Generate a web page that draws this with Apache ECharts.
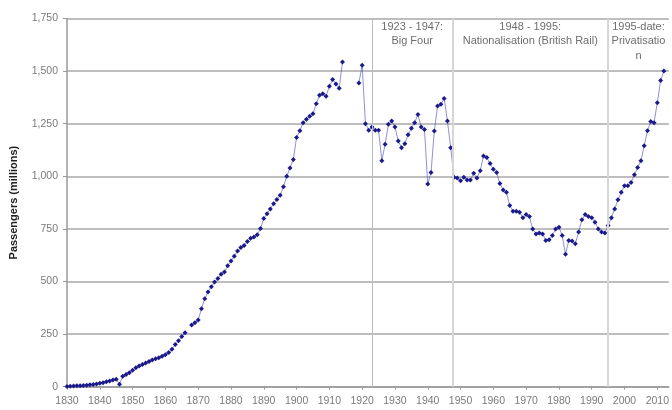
<!DOCTYPE html>
<html>
<head>
<meta charset="utf-8">
<script src="https://cdn.jsdelivr.net/npm/echarts@6/dist/echarts.min.js"></script>
<style>
  html, body { margin: 0; padding: 0; background: #fff; }
  #chart { width: 672px; height: 410px; }
</style>
</head>
<body>
<div id="chart"></div>
<script>
// years on the x axis, one per point
const years = [
  1830, 1831, 1832, 1833, 1834, 1835, 1836, 1837, 1838, 1839,
  1840, 1841, 1842, 1843, 1844, 1845, 1846, 1847, 1848, 1849,
  1850, 1851, 1852, 1853, 1854, 1855, 1856, 1857, 1858, 1859,
  1860, 1861, 1862, 1863, 1864, 1865, 1866, 1867, 1868, 1869,
  1870, 1871, 1872, 1873, 1874, 1875, 1876, 1877, 1878, 1879,
  1880, 1881, 1882, 1883, 1884, 1885, 1886, 1887, 1888, 1889,
  1890, 1891, 1892, 1893, 1894, 1895, 1896, 1897, 1898, 1899,
  1900, 1901, 1902, 1903, 1904, 1905, 1906, 1907, 1908, 1909,
  1910, 1911, 1912, 1913, 1914, 1915, 1916, 1917, 1918, 1919,
  1920, 1921, 1922, 1923, 1924, 1925, 1926, 1927, 1928, 1929,
  1930, 1931, 1932, 1933, 1934, 1935, 1936, 1937, 1938, 1939,
  1940, 1941, 1942, 1943, 1944, 1945, 1946, 1947, 1948, 1949,
  1950, 1951, 1952, 1953, 1954, 1955, 1956, 1957, 1958, 1959,
  1960, 1961, 1962, 1963, 1964, 1965, 1966, 1967, 1968, 1969,
  1970, 1971, 1972, 1973, 1974, 1975, 1976, 1977, 1978, 1979,
  1980, 1981, 1982, 1983, 1984, 1985, 1986, 1987, 1988, 1989,
  1990, 1991, 1992, 1993, 1994, 1995, 1996, 1997, 1998, 1999,
  2000, 2001, 2002, 2003, 2004, 2005, 2006, 2007, 2008, 2009,
  2010, 2011, 2012
]

// passengers (millions), '-' = no data
const passengers = [
  1, 2, 3, 4, 5, 6, 7, 9, 11, 13,
  16, 19, 23, 27, 32, 36, 12, 50, 58, 66,
  78, 90, 98, 106, 113, 120, 127, 133, 138, 145,
  152, 162, 178, 200, 218, 238, 257, '-', 293, 304,
  317, 370, 418, 450, 475, 498, 514, 535, 545, 575,
  598, 620, 645, 662, 671, 690, 705, 712, 722, 752,
  800, 822, 845, 870, 890, 910, 950, 1000, 1040, 1080,
  1184, 1216, 1255, 1271, 1286, 1297, 1345, 1385, 1392, 1381,
  1428, 1460, 1439, 1418, 1543, '-', '-', '-', '-', 1444,
  1528, 1250, 1219, 1234, 1219, 1219, 1074, 1152, 1247, 1263,
  1234, 1168, 1136, 1155, 1197, 1228, 1255, 1294, 1234, 1223,
  963, 1018, 1215, 1334, 1342, 1370, 1263, 1136, 995, 992,
  979, 995, 982, 982, 1014, 992, 1026, 1097, 1089, 1061,
  1034, 1018, 966, 935, 924, 861, 834, 834, 829, 803,
  818, 809, 750, 726, 730, 726, 695, 698, 719, 750,
  758, 719, 629, 695, 692, 680, 735, 793, 818, 809,
  803, 782, 750, 735, 730, 766, 803, 845, 888, 924,
  955, 955, 971, 1007, 1042, 1074, 1145, 1216, 1260, 1255,
  1350, 1455, 1500
]

// era boundaries and their captions
const eraStarts = [1923, 1947.5, 1995]
const eraEnds = [1947.5, 1995, 2013.5]
const eraLabels = ['1923 - 1947:\nBig Four', '1948 - 1995:\nNationalisation (British Rail)', '1995-date:\nPrivatisation']

const font = '"Liberation Sans", Arial, sans-serif'
const fmt = v => String(v).replace(/\B(?=(\d{3})+(?!\d))/g, ',')

const chart = echarts.init(document.getElementById('chart'))

const option = {
  animation: false,
  backgroundColor: '#fff',
  textStyle: { fontFamily: font },
  grid: { left: 67, right: 0, top: 18.5, bottom: 23.3 },
  xAxis: {
    type: 'value',
    min: 1830,
    max: 2013.5,
    interval: 10,
    axisLine: { lineStyle: { color: '#999', width: 1.5 } },
    axisTick: { show: true, length: 3, lineStyle: { color: '#999' } },
    axisLabel: { color: '#7a7a7a', fontSize: 10.5, margin: 9, showMaxLabel: false, formatter: v => String(v), fontFamily: font },
    splitLine: { show: false }
  },
  yAxis: {
    type: 'value',
    min: 0,
    max: 1750,
    interval: 250,
    name: 'Passengers (millions)',
    nameLocation: 'middle',
    nameGap: 48,
    nameTextStyle: { color: '#222', fontSize: 11, fontWeight: 'bold', fontFamily: font },
    axisLine: { show: true, lineStyle: { color: '#999', width: 1.5 } },
    axisTick: { show: true, length: 4, lineStyle: { color: '#999' } },
    axisLabel: { color: '#7a7a7a', fontSize: 10.5, margin: 9, formatter: fmt, fontFamily: font },
    splitLine: { lineStyle: { color: '#a8a8a8', width: 1.5 } }
  },
  series: [
    {
      type: 'line',
      data: years.map((y, i) => [y, passengers[i]]),
      connectNulls: false,
      symbol: 'diamond',
      symbolSize: 5,
      lineStyle: { color: 'rgba(70, 70, 190, 0.6)', width: 1 },
      itemStyle: { color: '#1a1a8c' },
      markLine: {
        silent: true,
        symbol: 'none',
        label: { show: false },
        data: [
          { xAxis: eraStarts[0], lineStyle: { color: '#bdbdbd', width: 1, type: 'solid' } },
          { xAxis: eraStarts[1], lineStyle: { color: '#d6d6d6', width: 2, type: 'solid' } },
          { xAxis: eraStarts[2], lineStyle: { color: '#d6d6d6', width: 2, type: 'solid' } }
        ]
      },
      markArea: {
        silent: true,
        itemStyle: { color: 'rgba(0,0,0,0)' },
        label: {
          position: 'insideTop',
          distance: 1,
          color: '#6e6e6e',
          fontSize: 11,
          lineHeight: 14.5,
          fontFamily: font
        },
        data: eraStarts.map((s, i) => [
          i === 2
            ? { xAxis: s, name: eraLabels[i], label: { width: 57, overflow: 'break' } }
            : { xAxis: s, name: eraLabels[i] },
          { xAxis: eraEnds[i] }
        ])
      }
    }
  ]
}

chart.setOption(option)
</script>
</body>
</html>
